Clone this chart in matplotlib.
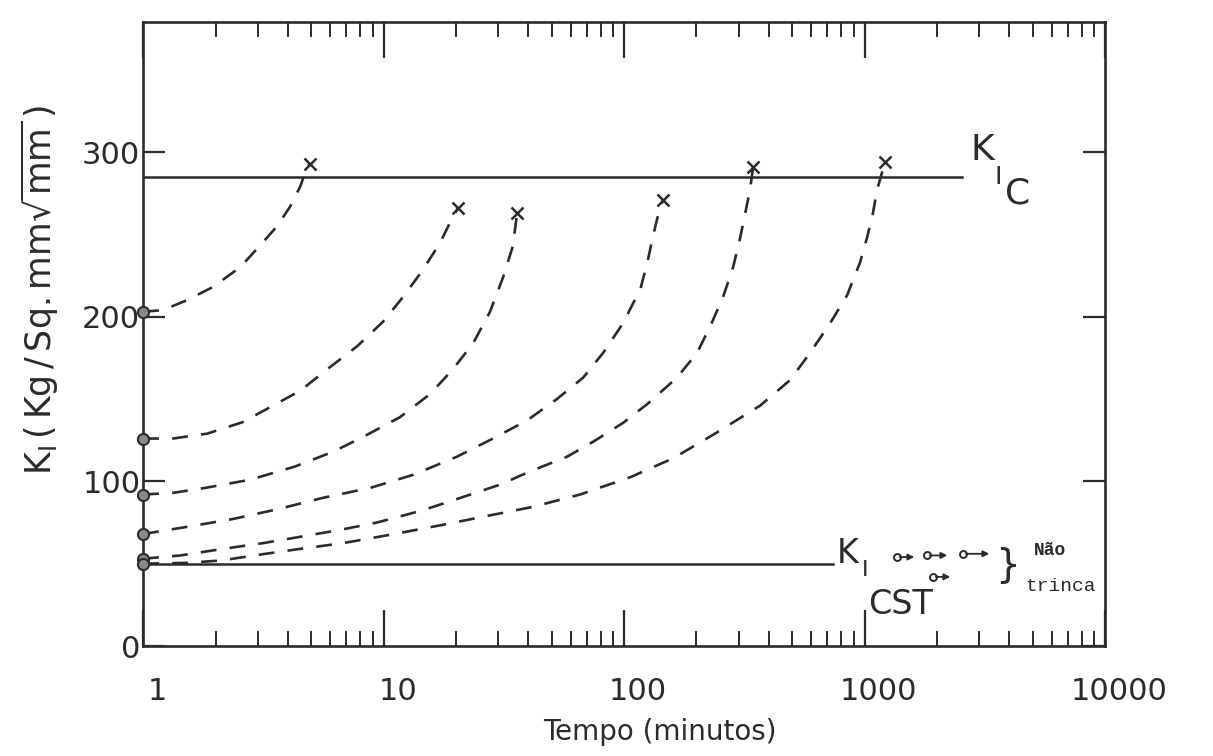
import matplotlib
matplotlib.use("Agg")
import matplotlib.pyplot as plt
import matplotlib.transforms as mtransforms
from matplotlib.ticker import LogLocator, FixedLocator, NullFormatter

# valores (tempo em minutos, K_I em Kg/Sq.mm sqrt(mm))
c1_t = [1, 1.21, 1.52, 1.95, 2.53, 3.01, 3.61, 4.09, 4.50, 4.81, 4.95]
c1_k = [203, 204, 210, 218, 230, 242, 255, 267, 279, 291, 293]

c2_t = [1, 1.33, 1.85, 2.60, 3.37, 4.50, 5.82, 7.76, 9.95, 12.05, 14.5, 17.2, 19.3, 20.4]
c2_k = [126, 126, 129, 136, 145, 155, 168, 182, 197, 212, 228, 245, 260, 266]

c3_t = [1, 1.33, 1.81, 2.79, 4.28, 6.17, 8.22, 11.7, 15.6, 19.4, 23.6, 27.7, 31.4, 34.5, 35.9]
c3_k = [92, 93, 96, 101, 109, 118, 127, 139, 153, 168, 184, 203, 224, 243, 263]

c4_t = [1, 1.47, 2.34, 3.61, 5.60, 8.79, 13.3, 20.2, 28.5, 39.5, 52.6, 67.6, 81.8, 99,
        117, 125, 131, 137, 145]
c4_k = [68, 72, 77, 83, 90, 96, 104, 115, 126, 137, 150, 163, 178, 196,
        217, 233, 247, 259, 271]

c5_t = [1, 1.43, 2.15, 3.16, 4.37, 6.59, 9.4, 14.6, 21.4, 30.5, 40.6, 58, 74.3, 99, 125,
        166, 201, 228, 258, 284, 303, 318, 334, 344]
c5_k = [53, 55, 59, 62.5, 66, 70.5, 75, 82.5, 90.5, 98, 106, 115, 124, 135.5, 147,
        163, 178, 194, 212, 230, 247, 262, 277, 291]

c6_t = [1, 1.54, 2.13, 3.06, 4.50, 6.79, 10.6, 17.5, 25.9, 41.8, 65.6, 106, 160, 239, 368,
        490, 593, 719, 846, 958, 1024, 1084, 1127, 1217]
c6_k = [50, 50.5, 52, 55.5, 59, 62.5, 67.5, 73.5, 78.5, 84.5, 92, 102.5, 114, 129, 146,
        161.5, 178, 196, 213, 233, 248, 263, 277, 294]

curves = [(c1_t, c1_k), (c2_t, c2_k), (c3_t, c3_k), (c4_t, c4_k), (c5_t, c5_k), (c6_t, c6_k)]

k_ic = 285
k_ic_tmax = 2540
k_icst = 50
k_icst_tmax = 740

# ensaios que não trincaram (inicio, fim, K)
nt_t0 = [1365, 1820, 2570, 1927]
nt_t1 = [1653, 2268, 3390, 2333]
nt_k = [54, 55, 56, 42]

xticks = [1, 10, 100, 1000, 10000]
xtick_labels = ["1", "10", "100", "1000", "10000"]
yticks = [0, 100, 200, 300]

ink = "#2b2b2b"

fig = plt.figure(figsize=(12.13, 7.56), dpi=100)
ax = fig.add_axes([0.118, 0.1455, 0.793, 0.8255])
ax.set_xscale("log")
ax.set_xlim(1, 10000)
ax.set_ylim(0, 379)

# linhas K_IC e K_ICST
ax.plot([1, k_ic_tmax], [k_ic, k_ic], color=ink, lw=1.8)
ax.plot([1, k_icst_tmax], [k_icst, k_icst], color=ink, lw=1.8)

for t, k in curves:
    ax.plot(t, k, color=ink, lw=1.9, dashes=(6, 5))
    ax.plot(t[0], k[0], "o", ms=8, mfc="#8a8a8a", mec=ink, mew=1.5, clip_on=False, zorder=5)
    ax.plot(t[-1], k[-1], "x", ms=9, color=ink, mew=1.8)

for a, b, k in zip(nt_t0, nt_t1, nt_k):
    ax.annotate("", xy=(b, k), xytext=(a, k),
                arrowprops=dict(arrowstyle="-|>", color=ink, lw=1.3, mutation_scale=9))
    ax.plot(a, k, "o", ms=5, mfc="white", mec=ink, mew=1.4)

# rótulos
ax.text(3080, 301, "K", fontsize=26, color=ink, ha="center", va="center")
ax.text(3600, 285, "I", fontsize=18, color=ink, ha="center", va="center")
ax.text(4350, 275, "C", fontsize=26, color=ink, ha="center", va="center")

ax.text(853, 56, "K", fontsize=24, color=ink, ha="center", va="center")
ax.text(1005, 46, "I", fontsize=16, color=ink, ha="center", va="center")
ax.text(1405, 25.5, "CST", fontsize=24, color=ink, ha="center", va="center")

ax.text(3915, 49, "}", fontsize=28, color=ink, ha="center", va="center")
ax.text(5900, 58, "Não", fontsize=13, color=ink, ha="center", va="center",
        family="Liberation Mono", fontweight="bold")
ax.text(6500, 36, "trinca", fontsize=14, color=ink, ha="center", va="center",
        family="Liberation Mono")

# eixos
ax.xaxis.set_major_locator(FixedLocator(xticks))
ax.set_xticklabels(xtick_labels)
ax.xaxis.set_minor_locator(LogLocator(base=10, subs=range(2, 10)))
ax.xaxis.set_minor_formatter(NullFormatter())
ax.set_yticks(yticks)

ax.tick_params(axis="x", which="major", direction="in", length=26, width=1.6,
               top=True, labelsize=22, pad=22, colors=ink)
ax.tick_params(axis="x", which="minor", direction="in", length=11, width=1.4, top=True,
               colors=ink)
ax.tick_params(axis="y", which="major", direction="in", length=16, width=1.6,
               right=True, labelsize=22, pad=2, colors=ink)

offset = mtransforms.ScaledTranslation(0.14, 0, fig.dpi_scale_trans)
for lbl in ax.get_xticklabels():
    lbl.set_transform(lbl.get_transform() + offset)

for s in ax.spines.values():
    s.set_linewidth(1.9)
    s.set_color(ink)

ax.set_xlabel("Tempo (minutos)", fontsize=20, color=ink)
ax.xaxis.set_label_coords(0.537, -0.115)
ax.set_ylabel(r"$\mathregular{K_I\,(\,Kg\,/\,Sq.mm\sqrt{mm}\,)}$", fontsize=25, color=ink)
ax.yaxis.set_label_coords(-0.085, 0.57)

fig.savefig("out.png", dpi=100)
